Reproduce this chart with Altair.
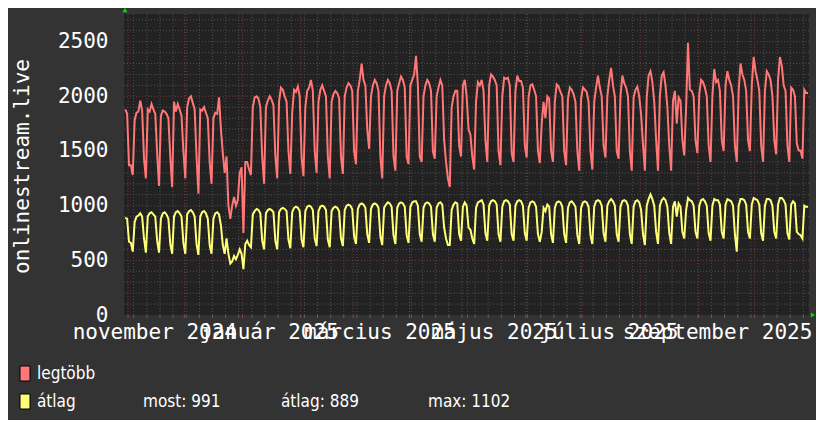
import altair as alt
import pandas as pd

RED = "#ff7777"
YEL = "#ffff77"
FONT = "DejaVu Sans Mono"

# daily maximum ("legtöbb"), one row per week Mon..Sun (first row starts Wed 2024-10-30)
max_weeks = [
    [1880, 1840, 1370, 1370, 1280],
    [1780, 1850, 1860, 1960, 1870, 1430, 1250],
    [1880, 1860, 1930, 1880, 1840, 1480, 1180],
    [1820, 1870, 1860, 1840, 1800, 1450, 1170],
    [1950, 1860, 1930, 1880, 1820, 1500, 1250],
    [1900, 1980, 2000, 1940, 1880, 1450, 1110],
    [1880, 1870, 1900, 1850, 1800, 1400, 1200],
    [1800, 1850, 1840, 1990, 1700, 1480, 1300],
    [1450, 1000, 880, 1000, 1080, 1000, 1050],
    [1300, 1350, 750, 1400, 1400, 1330, 1280],
    [1900, 1990, 2000, 1980, 1900, 1450, 1200],
    [1900, 1960, 2000, 1970, 1920, 1460, 1250],
    [1950, 2080, 2060, 2000, 1950, 1500, 1290],
    [1850, 2060, 2040, 2090, 2000, 1440, 1270],
    [1900, 2050, 2080, 2150, 2050, 1500, 1300],
    [1950, 2060, 2100, 2050, 2000, 1450, 1250],
    [1950, 2020, 2050, 2030, 1980, 1450, 1290],
    [2000, 2080, 2120, 2100, 2050, 1500, 1380],
    [2050, 2150, 2300, 2150, 2100, 1700, 1520],
    [2000, 2100, 2150, 2120, 2050, 1450, 1250],
    [2000, 2100, 2150, 2120, 2050, 1450, 1320],
    [2050, 2120, 2180, 2150, 2080, 1450, 1380],
    [2100, 2150, 2200, 2370, 2100, 1450, 1400],
    [2000, 2100, 2150, 2120, 2050, 1500, 1430],
    [2000, 2080, 2150, 2100, 1600, 1400, 1250],
    [1170, 1900, 2000, 2050, 2050, 1550, 1450],
    [2100, 2150, 2000, 1700, 1650, 1450, 1330],
    [1950, 2130, 2100, 2150, 2050, 1600, 1400],
    [2100, 2200, 2180, 2150, 2100, 1500, 1370],
    [2000, 2170, 2160, 2170, 2100, 1480, 1400],
    [2050, 2190, 2140, 2140, 2080, 1550, 1440],
    [1990, 2100, 2110, 2060, 2000, 1500, 1390],
    [1750, 1950, 1800, 2000, 1980, 1500, 1400],
    [1950, 2110, 2090, 2040, 2000, 1500, 1370],
    [1980, 2080, 2060, 2020, 1950, 1500, 1320],
    [1980, 2080, 2060, 2040, 1950, 1500, 1330],
    [1950, 2080, 2190, 2080, 2000, 1550, 1440],
    [2000, 2150, 2260, 2100, 2000, 1500, 1430],
    [2000, 2190, 2120, 2080, 2000, 1500, 1320],
    [1990, 2060, 2090, 2000, 1830, 1560, 1320],
    [1990, 2190, 2230, 2130, 1950, 1600, 1320],
    [2000, 2190, 2220, 2100, 1900, 1550, 1320],
    [1960, 2050, 1750, 1990, 1960, 1600, 1460],
    [1900, 2490, 2060, 2050, 2000, 1600, 1480],
    [2020, 2150, 2130, 2080, 2000, 1550, 1400],
    [2000, 2250, 2130, 2150, 2050, 1600, 1500],
    [2100, 2230, 2150, 2100, 2000, 1550, 1400],
    [2050, 2300, 2200, 2150, 2050, 1600, 1500],
    [2100, 2360, 2230, 2150, 2050, 1550, 1400],
    [2050, 2230, 2200, 2150, 2000, 1600, 1470],
    [2150, 2360, 2280, 2100, 2050, 1550, 1400],
    [2080, 2060, 2000, 1570, 1505, 1505, 1430],
    [2060, 2030, 2030],
]

# daily average ("átlag")
avg_weeks = [
    [890, 880, 670, 660, 580],
    [850, 900, 910, 930, 900, 700, 570],
    [900, 930, 940, 920, 900, 680, 570],
    [880, 930, 940, 920, 880, 650, 560],
    [900, 940, 950, 930, 900, 660, 560],
    [920, 950, 960, 940, 900, 650, 550],
    [900, 940, 950, 930, 880, 640, 560],
    [880, 930, 940, 920, 820, 640, 560],
    [700, 560, 470, 490, 540, 510, 550],
    [600, 560, 420, 650, 680, 640, 620],
    [920, 950, 970, 960, 930, 680, 600],
    [930, 960, 970, 960, 940, 680, 600],
    [940, 970, 980, 970, 950, 690, 610],
    [940, 980, 990, 980, 950, 690, 620],
    [950, 990, 1000, 990, 960, 700, 630],
    [950, 990, 1000, 990, 960, 690, 620],
    [950, 980, 990, 980, 950, 700, 630],
    [960, 1000, 1010, 1000, 970, 720, 650],
    [970, 1010, 1020, 1010, 980, 740, 660],
    [970, 1010, 1020, 1010, 980, 720, 640],
    [980, 1010, 1030, 1020, 990, 730, 650],
    [980, 1020, 1030, 1020, 990, 730, 660],
    [990, 1030, 1040, 1040, 1000, 740, 670],
    [980, 1020, 1030, 1020, 990, 740, 670],
    [980, 1020, 1030, 1010, 800, 700, 640],
    [640, 960, 1010, 1030, 1020, 740, 680],
    [990, 1030, 1000, 800, 780, 700, 650],
    [980, 1030, 1040, 1050, 1010, 750, 680],
    [1000, 1040, 1050, 1040, 1010, 740, 670],
    [990, 1040, 1050, 1040, 1010, 740, 680],
    [1000, 1040, 1050, 1040, 1000, 750, 680],
    [980, 1030, 1040, 1030, 990, 740, 670],
    [760, 980, 950, 1010, 990, 740, 660],
    [980, 1030, 1040, 1030, 990, 740, 660],
    [980, 1030, 1040, 1020, 990, 730, 650],
    [980, 1030, 1040, 1030, 990, 730, 650],
    [990, 1040, 1050, 1040, 1000, 750, 670],
    [1000, 1040, 1060, 1040, 1000, 740, 670],
    [990, 1040, 1050, 1040, 1000, 740, 650],
    [990, 1040, 1050, 1030, 960, 740, 640],
    [1000, 1060, 1102, 1060, 1000, 760, 650],
    [1000, 1050, 1070, 1050, 990, 750, 650],
    [990, 1040, 900, 1020, 990, 760, 700],
    [960, 1070, 1050, 1040, 1000, 760, 700],
    [1000, 1050, 1060, 1040, 1000, 750, 680],
    [1000, 1060, 1050, 1050, 1010, 760, 700],
    [1010, 1060, 1050, 1040, 1000, 740, 580],
    [1000, 1060, 1060, 1050, 1010, 760, 700],
    [1010, 1070, 1060, 1050, 1010, 750, 680],
    [1000, 1060, 1060, 1050, 1000, 760, 700],
    [1010, 1070, 1070, 1050, 1010, 750, 690],
    [1010, 1040, 1020, 760, 740, 730, 700],
    [1000, 990, 991],
]

month_names = ["január", "február", "március", "április", "május", "június",
               "július", "augusztus", "szeptember", "október", "november", "december"]
y_major = [500, 1000, 1500, 2000, 2500]
y_minor = [v for v in range(100, 2800, 100) if v % 500 != 0]
y_labels = [0, 500, 1000, 1500, 2000, 2500]
legend_stats = ["most: 991", "átlag: 889", "max: 1102"]

max_vals = [v for w in max_weeks for v in w]
avg_vals = [v for w in avg_weeks for v in w]
dates = pd.date_range("2024-10-30 12:00", periods=len(max_vals), freq="D")
df = pd.DataFrame({"t": dates, "max": max_vals, "avg": avg_vals})

month_starts = pd.DataFrame({"t": pd.date_range("2024-11-01", "2025-10-01", freq="MS")})
mondays = pd.DataFrame({"t": pd.date_range("2024-11-04", "2025-10-27", freq="W-MON")})
ymaj = pd.DataFrame({"v": y_major})
ymin = pd.DataFrame({"v": y_minor})

W, H = 685, 301
xscale = alt.Scale(domain=[alt.DateTime(year=2024, month=10, date=29, hours=20),
                           alt.DateTime(year=2025, month=10, date=30)])
yscale = alt.Scale(domain=[0, 2753], nice=False)

# label anchor dates (mid-month; last one nudged so the text stays inside the page)
label_vals = [alt.DateTime(year=2024, month=11, date=15),
              alt.DateTime(year=2025, month=1, date=15),
              alt.DateTime(year=2025, month=3, date=15),
              alt.DateTime(year=2025, month=5, date=15),
              alt.DateTime(year=2025, month=7, date=15),
              alt.DateTime(year=2025, month=9, date=11)]
names_js = "[" + ",".join("'" + m + "'" for m in month_names) + "]"

xaxis = alt.Axis(values=label_vals, labelExpr=names_js + "[month(datum.value)] + ' ' + year(datum.value)",
                 ticks=False, domain=False, grid=False, labelFont=FONT, labelFontSize=21,
                 labelColor="#ffffff", labelPadding=23, labelBaseline="alphabetic", labelLimit=0,
                 labelOverlap=False, labelFlush=False, labelBound=False, title=None)
yaxis = alt.Axis(values=y_labels, format="d", ticks=False, domain=False, grid=False, labelFont=FONT,
                 labelFontSize=21, labelColor="#ffffff", labelPadding=16,
                 title="onlinestream.live", titleFont=FONT, titleFontSize=21,
                 titleFontWeight="normal", titleColor="#ffffff", titleAngle=270,
                 titleX=-96, titleY=152, titleAlign="center", titleBaseline="alphabetic")

X = alt.X("t:T", scale=xscale, axis=xaxis)
dash = [1, 2]
grid_x_minor = alt.Chart(mondays).mark_rule(color="#505050", strokeDash=dash, strokeWidth=1).encode(x=X)
grid_x_major = alt.Chart(month_starts).mark_rule(color="#7a3838", strokeDash=dash, strokeWidth=1).encode(x=X)
grid_y_minor = alt.Chart(ymin).mark_rule(color="#505050", strokeDash=dash, strokeWidth=1).encode(
    y=alt.Y("v:Q", scale=yscale, axis=yaxis))
grid_y_major = alt.Chart(ymaj).mark_rule(color="#7a3838", strokeDash=dash, strokeWidth=1).encode(
    y=alt.Y("v:Q", scale=yscale, axis=yaxis))
tick_minor = alt.Chart(mondays).mark_rule(color="#606060").encode(
    x=X, y=alt.value(H), y2=alt.value(H + 3))
tick_major = alt.Chart(month_starts).mark_rule(color="#a04040").encode(
    x=X, y=alt.value(H), y2=alt.value(H + 3))

line_max = alt.Chart(df).mark_line(color=RED, strokeWidth=2, interpolate="linear").encode(
    x=X, y=alt.Y("max:Q", scale=yscale, axis=yaxis))
line_avg = alt.Chart(df).mark_line(color=YEL, strokeWidth=2, interpolate="linear").encode(
    x=X, y=alt.Y("avg:Q", scale=yscale, axis=yaxis))

one = pd.DataFrame({"a": [0]})

def box(color, top):
    return alt.Chart(one).mark_rect(fill=color, stroke="#000000", strokeWidth=1).encode(
        x=alt.value(-104), x2=alt.value(-94), y=alt.value(top), y2=alt.value(top + 15))

def txt(s, x, y):
    return alt.Chart(one).mark_text(align="left", baseline="alphabetic",
                                    font="DejaVu Sans Condensed, DejaVu Sans Mono",
                                    fontSize=17, color="#ffffff").encode(
        x=alt.value(x), y=alt.value(y), text=alt.value(s))

legend = [box(RED, 352), box(YEL, 380),
          txt("legtöbb", -87, 365), txt("átlag", -87, 393),
          txt(legend_stats[0], 19, 393), txt(legend_stats[1], 157, 393), txt(legend_stats[2], 304, 393)]

arrow_up = alt.Chart(one).mark_point(shape="triangle-up", filled=True, color="#00dd00", size=25, opacity=1).encode(
    x=alt.value(1), y=alt.value(-4))
arrow_right = alt.Chart(one).mark_point(shape="triangle-right", filled=True, color="#00dd00", size=25, opacity=1).encode(
    x=alt.value(689), y=alt.value(H))

chart = alt.layer(grid_x_minor, grid_y_minor, grid_x_major, grid_y_major, tick_minor, tick_major,
                  line_max, line_avg, *legend, arrow_up, arrow_right).properties(
    width=W, height=H, background="#333333",
    autosize=alt.AutoSizeParams(type="none"),
    padding={"left": 116, "top": 6, "right": 7, "bottom": 105},
).configure_view(fill="#222222", stroke=None)

chart.save("out.html", embed_options={"renderer": "svg", "actions": False})
